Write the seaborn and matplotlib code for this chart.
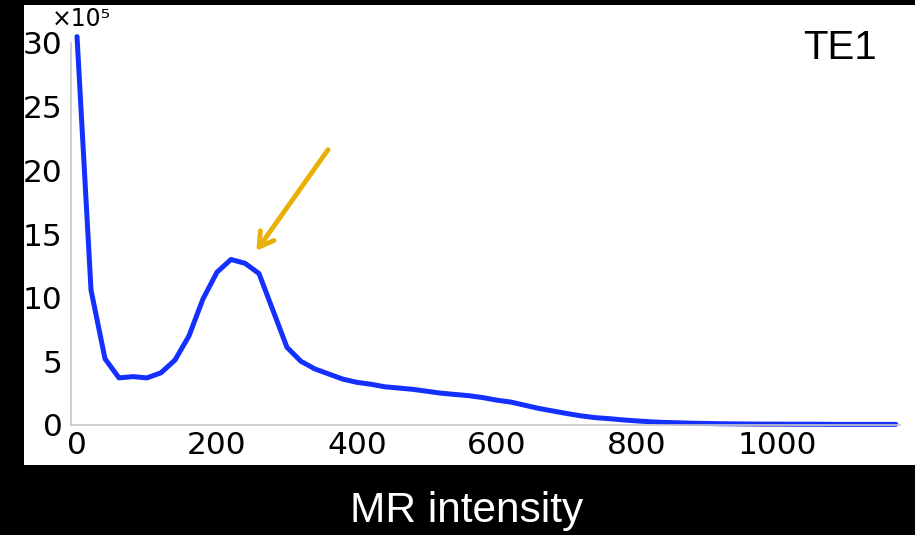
import numpy as np
import pandas as pd
import matplotlib
matplotlib.use("Agg")
import matplotlib.pyplot as plt
import seaborn as sns
from matplotlib.patches import Rectangle

# histogram of MR intensity (counts in units of 1e5)
intensity = list(range(0, 1161, 20)) + [1170]
counts = [30.5, 10.6, 5.2, 3.7, 3.8, 3.7, 4.1, 5.1, 7.0, 9.9,
          12.0, 13.0, 12.7, 11.9, 9.0, 6.1, 5.0, 4.4, 4.0, 3.6,
          3.35, 3.2, 3.0, 2.9, 2.8, 2.65, 2.5, 2.4, 2.3, 2.15,
          1.95, 1.8, 1.55, 1.3, 1.1, 0.9, 0.72, 0.58, 0.5, 0.4,
          0.32, 0.25, 0.2, 0.17, 0.14, 0.12, 0.1, 0.09, 0.08, 0.07,
          0.07, 0.06, 0.06, 0.06, 0.05, 0.05, 0.05, 0.05, 0.05, 0.05]
x_ticks = [0, 200, 400, 600, 800, 1000]
y_ticks = [0, 5, 10, 15, 20, 25, 30]
label = "TE1"
arrow_tip = (254, 13.5)
arrow_tail = (361, 21.8)

df = pd.DataFrame({"intensity": intensity, "count": counts})

sns.set_style("white")
plt.rcParams["font.family"] = ["DejaVu Sans"]

W, H = 915, 535
fig = plt.figure(figsize=(W / 100, H / 100), dpi=100, facecolor="black")
# white panel behind the plot
fig.patches.append(Rectangle((24 / W, (H - 465) / H), (W - 24) / W, 460 / H,
                             transform=fig.transFigure, facecolor="white",
                             edgecolor="none", zorder=-10))

x0, x1 = 71, 900
y_zero, y_thirty = 425, 43
ppu = (y_zero - y_thirty) / 30.0
ytop = 31.2
ax = fig.add_axes([x0 / W, (H - y_zero) / H, (x1 - x0) / W, ytop * ppu / H])
ax.set_zorder(5)
ax.patch.set_alpha(0)

sns.lineplot(data=df, x="intensity", y="count", ax=ax, color="#1430ff",
             linewidth=3.6, clip_on=False)

ax.set_xlim(-8.6, 1176)
ax.set_ylim(0, ytop)
ax.set_xticks(x_ticks)
ax.set_yticks(y_ticks)
ax.set_xlabel("")
ax.set_ylabel("")
for s in ["top", "right"]:
    ax.spines[s].set_visible(False)
for s in ["left", "bottom"]:
    ax.spines[s].set_color("#c8c8c8")
    ax.spines[s].set_linewidth(1.2)
ax.spines["left"].set_bounds(0, 30)
ax.tick_params(axis="y", direction="out", length=3, color="#c8c8c8",
               labelsize=22.5, pad=3, labelcolor="black")
ax.tick_params(axis="x", direction="in", length=3, color="#c8c8c8",
               labelsize=22.5, pad=4, labelcolor="black")

ax.annotate("", xy=arrow_tip, xytext=arrow_tail,
            arrowprops=dict(arrowstyle="->,head_length=1.0,head_width=0.6",
                            color="#e8b008", lw=3.5))

fig.text(52 / W, (H - 19) / H, "×10⁵", fontsize=17, color="black",
         ha="left", va="center", zorder=6)
fig.text(840 / W, (H - 48) / H, label, fontsize=29, color="black",
         family="Liberation Sans", ha="center", va="center", zorder=6)
fig.text(467 / W, (H - 511) / H, "MR intensity", fontsize=30.5, color="white",
         family="Liberation Sans", ha="center", va="center", zorder=6)

fig.savefig("out.png", dpi=100, facecolor=fig.get_facecolor())
